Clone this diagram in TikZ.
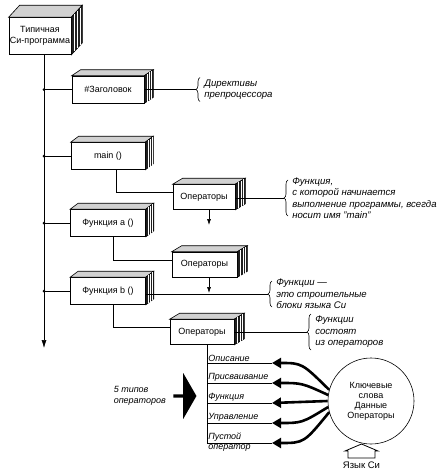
\documentclass[tikz,border=0pt]{standalone}
\usepackage{fontspec}
\setmainfont{Liberation Sans}
\usepackage{tikz}
\usetikzlibrary{positioning, calc, shapes, arrows.meta, decorations.pathreplacing}
% top and side faces of a box node: node, dx, dy
\newcommand{\kub}[3]{
	\filldraw[fill=black!18] (#1.north west) -- ++(#2,-#3) -- ($(#1.north east)+(#2,-#3)$) -- (#1.north east) -- cycle;
	\filldraw[fill=black!88] (#1.north east) -- ++(#2,-#3) -- ($(#1.south east)+(#2,-#3)$) -- (#1.south east) -- cycle;
	\foreach \f in {0.3,0.55,0.8}
		\draw[white, line width=0.4pt] ($(#1.north east)+({#2*\f},{-#3*\f})$) -- ($(#1.south east)+({#2*\f},{-#3*\f})$);}

\begin{document}
\begin{tikzpicture}[x=1pt, y=-1pt, line width=0.6pt,
	kubik/.style={draw, fill=white, minimum width=72, minimum height=27, inner sep=1pt, align=center, font=\fontsize{9}{10.5}\selectfont},
	note/.style={inner sep=0pt, align=left, font=\fontsize{9.6}{11.5}\selectfont\itshape},
	vid/.style={inner sep=1pt, font=\fontsize{9}{10}\selectfont\itshape},
	skobka/.style={decorate, decoration={brace, amplitude=4pt}},
	strelka/.style={line width=2.6pt, -{Triangle[length=9pt, width=10pt]}},
	malaya/.style={-{Latex[length=6pt, width=4pt]}}]
\useasboundingbox (0,0) rectangle (443,474);

\node[kubik, minimum width=60, minimum height=37] (prog) at (40,36) {Типичная\\Си-программа};
\node[kubik] (zag) at (108,89.5) {\#Заголовок};
\node[kubik, minimum width=74] (main) at (108,156) {main ()};
\node[kubik, minimum width=62, minimum height=25] (opa) at (204,197) {Операторы};
\node[kubik, minimum width=75] (fa) at (108,223) {Функция a ()};
\node[kubik, minimum width=65, minimum height=25] (opb) at (204.5,264.5) {Операторы};
\node[kubik, minimum width=75] (fb) at (108,291) {Функция b ()};
\node[kubik, minimum width=64, minimum height=25] (opc) at (202,332) {Операторы};

\kub{prog}{11}{12}
\kub{zag}{9}{6}
\kub{main}{8}{6}
\kub{opa}{10}{6}
\kub{fa}{8}{6}
\kub{opb}{10}{6}
\kub{fb}{8}{6}
\kub{opc}{10}{6}

% trunk
\coordinate (niz) at (44,348);
\draw[-{Latex[length=8pt, width=5pt]}] (prog.south -| niz) -- (niz);
\draw (zag.west -| niz) -- (zag.west);
\draw (main.west -| niz) -- (main.west);
\draw (fa.west -| niz) -- (fa.west);
\draw (fb.west -| niz) -- (fb.west);
\fill (zag.west -| niz) circle (1.5pt);
\fill (main.west -| niz) circle (1.5pt);
\fill (fa.west -| niz) circle (1.5pt);
\fill (fb.west -| niz) circle (1.5pt);

% functions and their statements
\draw ([xshift=8pt]main.south) |- ([yshift=5pt]opa.west);
\coordinate (sa) at (209,225);
\draw[malaya] (opa.south -| sa) -- (sa);
\draw ([xshift=5pt]fa.south) |- ([yshift=4pt]opb.west);
\coordinate (sb) at (209,293);
\draw[malaya] (opb.south -| sb) -- (sb);
\draw ([xshift=5pt]fb.south) |- ([yshift=5pt]opc.west);

% notes
\coordinate (bzag) at (196,89.5);
\draw[skobka] ($(bzag)+(4,12)$) -- ($(bzag)+(4,-12)$);
\draw (zag.east) -- (bzag);
\node[note, right=8pt of bzag] (nzag) {Директивы\\препроцессора};

\coordinate (bopa) at (284,198);
\draw[skobka] ($(bopa)+(4,18)$) -- ($(bopa)+(4,-18)$);
\draw (opa.east |- bopa) -- (bopa);
\node[note, right=8pt of bopa] (nopa) {Функция,\\с которой начинается\\выполнение программы, всегда\\носит имя "main"};

\coordinate (bfb) at (268,294);
\draw[skobka] ($(bfb)+(4,13)$) -- ($(bfb)+(4,-13)$);
\draw (fb.east |- bfb) -- (bfb);
\node[note, right=8pt of bfb] (nfb) {Функции —\\это строительные\\блоки языка Си};

\coordinate (bopc) at (307,332);
\draw[skobka] ($(bopc)+(4,18)$) -- ($(bopc)+(4,-18)$);
\draw (opc.east |- bopc) -- (bopc);
\node[note, right=8pt of bopc] (nopc) {Функции\\состоят\\из операторов};

% five kinds of statements
\coordinate (l1) at (207,363);
\coordinate (l2) at (207,383);
\coordinate (l3) at (207,403);
\coordinate (l4) at (207,423);
\coordinate (l5) at (207,443);
\coordinate (e1) at (272,363);
\coordinate (e2) at (272,383);
\coordinate (e3) at (272,403);
\coordinate (e4) at (272,423);
\coordinate (e5) at (272,443);
\draw (opc.south -| l5) -- (l5);
\draw (l1) -- (e1);
\draw (l2) -- (e2);
\draw (l3) -- (e3);
\draw (l4) -- (e4);
\draw (l5) -- (e5);
\node[vid, anchor=south west] (o1) at (l1) {Описание};
\node[vid, anchor=south west] (o2) at (l2) {Присваивание};
\node[vid, anchor=south west] (o3) at (l3) {Функция};
\node[vid, anchor=south west] (o4) at (l4) {Управление};
\node[vid, anchor=south west] (o5) at (l5) {Пустой};
\node[vid, anchor=north west] (o6) at (l5) {оператор};

\node[draw, circle, minimum size=86, inner sep=0pt, align=center, font=\fontsize{9}{10}\selectfont] (slova) at (371,401) {Ключевые\\слова\\Данные\\Операторы};
\draw[strelka] (slova.165) .. controls (302,363) .. (e1);
\draw[strelka] (slova.172) .. controls (302,383) .. (e2);
\draw[strelka] (slova.180) -- (e3);
\draw[strelka] (slova.188) .. controls (302,423) .. (e4);
\draw[strelka] (slova.195) .. controls (304,443) .. (e5);

\node[single arrow, fill=black, minimum height=23, minimum width=46, single arrow head extend=4pt, single arrow tip angle=120, inner sep=0pt] (blok) at (184.5,396) {};
\node[note, left=7pt of blok, font=\fontsize{9}{11}\selectfont\itshape] (ntip) {5 типов\\операторов};

% up arrow under the circle
\coordinate (vverh) at (361.5,444);
\draw[line width=0.8pt, line join=miter] (vverh) -- ++(16.5,7) -- ++(-3,0) -- ++(0,7) -- ++(-27,0) -- ++(0,-7) -- ++(-3,0) -- cycle;
\node[below=17pt of vverh, inner sep=1pt, font=\fontsize{9.5}{10}\selectfont] (yazyk) {Язык Си};
\end{tikzpicture}
\end{document}
